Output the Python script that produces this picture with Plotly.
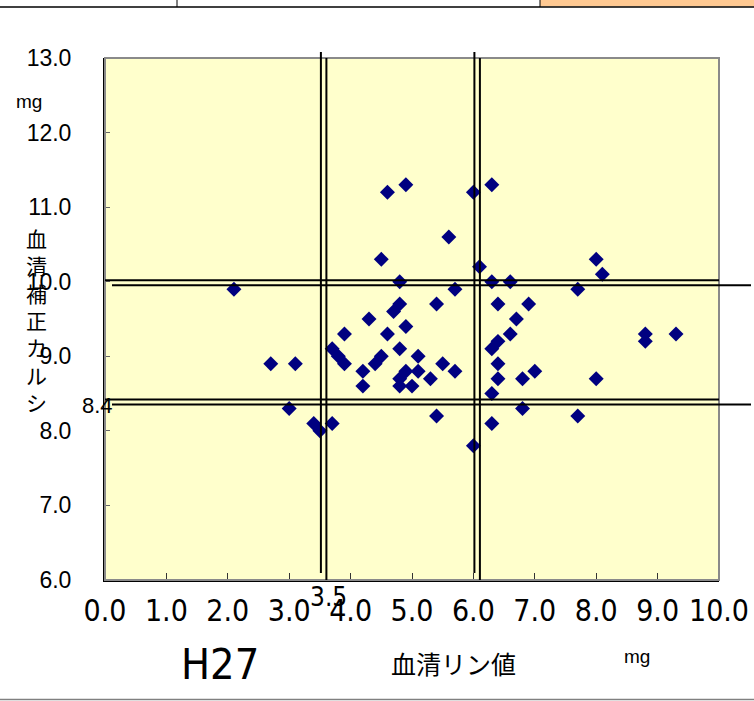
import plotly.graph_objects as go

# ---- data (serum phosphorus vs corrected serum calcium, H27) ----
phosphorus = [2.1, 2.7, 3.1, 3.0, 3.4, 3.5, 3.7, 3.7, 3.8, 3.9, 3.9,
              4.2, 4.2, 4.3, 4.4, 4.5, 4.5, 4.6, 4.6, 4.7, 4.8, 4.8,
              4.8, 4.8, 4.8, 4.9, 4.9, 4.9, 5.0, 5.1, 5.1, 5.3, 5.4,
              5.4, 5.5, 5.6, 5.7, 5.7, 6.0, 6.0, 6.1, 6.3, 6.3, 6.3,
              6.4, 6.4, 6.4, 6.4, 6.3, 6.3, 6.6, 6.6, 6.7, 6.9, 6.8,
              6.8, 7.0, 7.7, 7.7, 8.0, 8.1, 8.0, 8.8, 8.8, 9.3]
calcium = [9.9, 8.9, 8.9, 8.3, 8.1, 8.0, 8.1, 9.1, 9.0, 8.9, 9.3,
           8.8, 8.6, 9.5, 8.9, 9.0, 10.3, 9.3, 11.2, 9.6, 9.7, 10.0,
           9.1, 8.7, 8.6, 8.8, 9.4, 11.3, 8.6, 9.0, 8.8, 8.7, 9.7,
           8.2, 8.9, 10.6, 9.9, 8.8, 11.2, 7.8, 10.2, 11.3, 10.0, 9.1,
           9.2, 9.7, 8.9, 8.7, 8.5, 8.1, 10.0, 9.3, 9.5, 9.7, 8.7,
           8.3, 8.8, 9.9, 8.2, 10.3, 10.1, 8.7, 9.3, 9.2, 9.3]

x_ticks = [0, 1, 2, 3, 4, 5, 6, 7, 8, 9, 10]
y_ticks = [6, 7, 8, 9, 10, 11, 12, 13]
ref_x = [3.5, 6.0]      # reference lines on phosphorus
ref_y = [8.4, 10.0]     # reference lines on calcium

title_year = "H27"
x_title = "血清リン値"
y_title_chars = ["血", "清", "補", "正", "カ", "ル", "シ"]
unit = "mg"

# ---- layout geometry (pixels) ----
W, H = 754, 701
L, R, T, B = 105, 35, 58, 121
PW, PH = W - L - R, H - T - B

def px(xp):  # pixel x -> paper
    return (xp - L) / PW

def py(yp):  # pixel y -> paper
    return (H - B - yp) / PH

NARROW = "Liberation Sans Narrow, Arial Narrow, DejaVu Sans Condensed, sans-serif"
SANS = "Liberation Sans, Arial, sans-serif"
CJK = "Noto Sans CJK JP, sans-serif"

fig = go.Figure()
fig.add_trace(go.Scatter(
    x=phosphorus, y=calcium, mode="markers",
    marker=dict(symbol="diamond", size=11.5, color="#000080",
                line=dict(width=0)),
    hoverinfo="x+y", showlegend=False,
))

shapes = []
# plot area border (grey)
shapes.append(dict(type="rect", xref="paper", yref="paper", x0=0, x1=1, y0=0, y1=1,
                   line=dict(color="#8a8a8a", width=2), layer="above"))
# reference lines: two slightly offset copies each (as in the source chart)
for i, rx in enumerate(ref_x):
    xa = px(L + rx * PW / 10 + 1)
    xb = px(L + rx * PW / 10 + 6.5)
    shapes.append(dict(type="line", xref="paper", yref="paper", x0=xa, x1=xa,
                       y0=py(573), y1=py(52), line=dict(color="black", width=2)))
    shapes.append(dict(type="line", xref="paper", yref="paper", x0=xb, x1=xb,
                       y0=0, y1=1, line=dict(color="black", width=2)))
for ry in ref_y:
    ya = py(T + (13 - ry) * PH / 7 - 1.5)
    yb = py(T + (13 - ry) * PH / 7 + 3.5)
    shapes.append(dict(type="line", xref="paper", yref="paper", x0=0, x1=1,
                       y0=ya, y1=ya, line=dict(color="black", width=2)))
    shapes.append(dict(type="line", xref="paper", yref="paper", x0=px(112), x1=px(751),
                       y0=yb, y1=yb, line=dict(color="black", width=2)))
# page decorations: top rule, orange cell, bottom rule
shapes.append(dict(type="rect", xref="paper", yref="paper", x0=px(540), x1=px(756),
                   y0=py(6.5), y1=py(-2), line=dict(width=0), fillcolor="#FFC992"))
shapes.append(dict(type="line", xref="paper", yref="paper", x0=px(-2), x1=px(756),
                   y0=py(7), y1=py(7), line=dict(color="black", width=1.5)))
for vx in (177, 540):
    shapes.append(dict(type="line", xref="paper", yref="paper", x0=px(vx), x1=px(vx),
                       y0=py(7), y1=py(-2), line=dict(color="black", width=1)))
shapes.append(dict(type="line", xref="paper", yref="paper", x0=px(-2), x1=px(756),
                   y0=py(699.5), y1=py(699.5), line=dict(color="#808080", width=1.5)))

annotations = [
    dict(text=title_year, x=px(220), y=py(664), xref="paper", yref="paper",
         showarrow=False, font=dict(family=NARROW, size=43, color="black"),
         xanchor="center", yanchor="middle"),
    dict(text=x_title, x=px(453), y=py(663), xref="paper", yref="paper",
         showarrow=False, font=dict(family=CJK, size=25, color="black"),
         xanchor="center", yanchor="middle"),
    dict(text=unit, x=px(637), y=py(656), xref="paper", yref="paper",
         showarrow=False, font=dict(family=SANS, size=19, color="black"),
         xanchor="center", yanchor="middle"),
    dict(text=unit, x=px(29), y=py(101), xref="paper", yref="paper",
         showarrow=False, font=dict(family=SANS, size=19, color="black"),
         xanchor="center", yanchor="middle"),
    dict(text="<br>".join(y_title_chars), x=px(36), y=py(320), xref="paper", yref="paper",
         showarrow=False, font=dict(family=CJK, size=21, color="black"),
         xanchor="center", yanchor="middle"),
    dict(text=f"{ref_y[0]:.1f}", x=px(97), y=py(405), xref="paper", yref="paper",
         showarrow=False, font=dict(family=SANS, size=22, color="black"),
         xanchor="center", yanchor="middle"),
    dict(text=f"{ref_x[0]:.1f}", x=px(328), y=py(597), xref="paper", yref="paper",
         showarrow=False, font=dict(family=NARROW, size=26, color="black"),
         xanchor="center", yanchor="middle"),
]

fig.update_layout(
    width=W, height=H,
    margin=dict(l=L, r=R, t=T, b=B, autoexpand=False),
    paper_bgcolor="white", plot_bgcolor="#FFFFCC",
    shapes=shapes, annotations=annotations,
    xaxis=dict(range=[0, 10], tickvals=x_ticks, ticktext=[f"{v:.1f}" for v in x_ticks],
               showgrid=False, zeroline=False, showline=True, linecolor="black",
               linewidth=2, ticks="inside", ticklen=7, tickcolor="#333",
               tickfont=dict(family=NARROW, size=30, color="black"),
               ticklabelstandoff=3, fixedrange=True),
    yaxis=dict(range=[6, 13], tickvals=y_ticks, ticktext=[f"{v:.1f}" for v in y_ticks],
               showgrid=False, zeroline=False, showline=True, linecolor="black",
               linewidth=2, ticks="inside", ticklen=5, tickcolor="#666",
               tickfont=dict(family=SANS, size=23, color="black"),
               ticklabelstandoff=27, fixedrange=True),
)

fig.write_html("out.html", config={"displayModeBar": False},
               post_script="document.body.style.margin='0px';document.body.style.overflow='hidden';")
